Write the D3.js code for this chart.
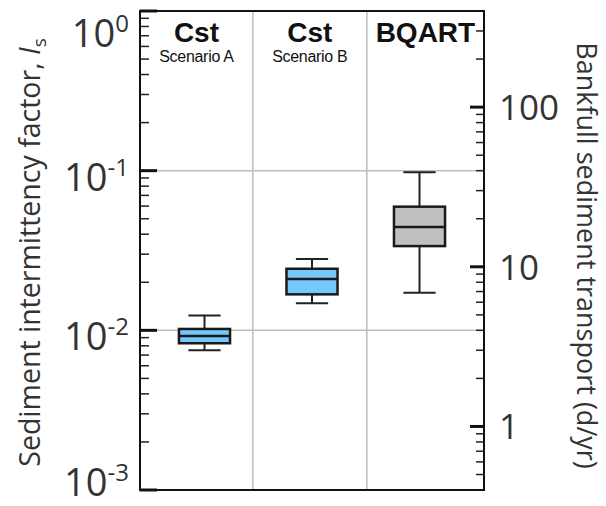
<!DOCTYPE html>
<html>
<head>
<meta charset="utf-8">
<script src="https://cdn.jsdelivr.net/npm/d3@7"></script>
<style>
  body { margin: 0; background: #fff; }
  svg { display: block; }
</style>
</head>
<body>
<div id="chart"></div>
<script>
// datos
const categories = ["Cst", "Cst", "BQART"];
const subtitles = ["Scenario A", "Scenario B", ""];
const positions = [1, 2, 3];
const separators = [1.45, 2.51];
const whiskerLow = [0.0075, 0.0148, 0.0172];
const q1 = [0.0083, 0.0168, 0.0337];
const median = [0.0092, 0.0210, 0.0444];
const q3 = [0.0102, 0.0243, 0.0595];
const whiskerHigh = [0.0124, 0.0280, 0.0977];
const leftTicks = [1e-3, 1e-2, 1e-1, 1];
const leftExponents = ["-3", "-2", "-1", "0"];
const rightTicks = [1, 10, 100];
const gridValues = [1e-2, 1e-1];

const width = 606, height = 506;
const plotLeft = 140, plotRight = 484, plotTop = 11, plotBottom = 490;
const fills = ["#74c8fa", "#74c8fa", "#c0c0c0"];
const tickFont = "'Open Sans', sans-serif";
const catFont = "'Liberation Sans', Arial, sans-serif";
const textColor = '#333';

const svg = d3.select('#chart').append('svg')
    .attr('width', width)
    .attr('height', height);

const x = d3.scaleLinear().domain([0.4, 3.6]).range([plotLeft, plotRight]);
const y = d3.scaleLog().domain([1e-3, 1]).range([plotBottom, plotTop]);
const yR = d3.scaleLog().domain([0.4, 400]).range([plotBottom, plotTop]);

// lineas de cuadricula
svg.selectAll('.hgrid').data(gridValues).enter().append('line')
    .attr('x1', plotLeft).attr('x2', plotRight)
    .attr('y1', d => y(d)).attr('y2', d => y(d))
    .attr('stroke', '#bdbdbd').attr('stroke-width', 1.5);
svg.selectAll('.vgrid').data(separators).enter().append('line')
    .attr('x1', d => x(d)).attr('x2', d => x(d))
    .attr('y1', plotTop).attr('y2', plotBottom)
    .attr('stroke', '#bdbdbd').attr('stroke-width', 1.5);

// ticks izquierdos (menores y mayores)
const minorL = y.ticks().filter(t => !leftTicks.some(m => Math.abs(m - t) / m < 1e-6));
svg.selectAll('.minL').data(minorL).enter().append('line')
    .attr('x1', plotLeft).attr('x2', plotLeft + 9)
    .attr('y1', d => y(d)).attr('y2', d => y(d))
    .attr('stroke', '#222').attr('stroke-width', 1.5);
svg.selectAll('.majL').data(leftTicks).enter().append('line')
    .attr('x1', plotLeft).attr('x2', plotLeft + 17)
    .attr('y1', d => y(d)).attr('y2', d => y(d))
    .attr('stroke', '#111').attr('stroke-width', 3);

// ticks derechos
const minorR = yR.ticks().filter(t => !rightTicks.includes(t));
svg.selectAll('.minR').data(minorR).enter().append('line')
    .attr('x1', plotRight - 8).attr('x2', plotRight)
    .attr('y1', d => yR(d)).attr('y2', d => yR(d))
    .attr('stroke', '#222').attr('stroke-width', 1.5);
svg.selectAll('.majR').data(rightTicks).enter().append('line')
    .attr('x1', plotRight - 14).attr('x2', plotRight)
    .attr('y1', d => yR(d)).attr('y2', d => yR(d))
    .attr('stroke', '#111').attr('stroke-width', 3);

// cajas
const boxes = positions.map((p, i) => ({p, i}));
const g = svg.selectAll('.box').data(boxes).enter().append('g');
const boxW = 0.475, capW = 0.3;
g.append('line')
    .attr('x1', d => x(d.p)).attr('x2', d => x(d.p))
    .attr('y1', d => y(whiskerHigh[d.i])).attr('y2', d => y(q3[d.i]))
    .attr('stroke', '#222').attr('stroke-width', 2);
g.append('line')
    .attr('x1', d => x(d.p)).attr('x2', d => x(d.p))
    .attr('y1', d => y(q1[d.i])).attr('y2', d => y(whiskerLow[d.i]))
    .attr('stroke', '#222').attr('stroke-width', 2);
g.append('line')
    .attr('x1', d => x(d.p - capW / 2)).attr('x2', d => x(d.p + capW / 2))
    .attr('y1', d => y(whiskerHigh[d.i])).attr('y2', d => y(whiskerHigh[d.i]))
    .attr('stroke', '#222').attr('stroke-width', 2);
g.append('line')
    .attr('x1', d => x(d.p - capW / 2)).attr('x2', d => x(d.p + capW / 2))
    .attr('y1', d => y(whiskerLow[d.i])).attr('y2', d => y(whiskerLow[d.i]))
    .attr('stroke', '#222').attr('stroke-width', 2);
g.append('rect')
    .attr('x', d => x(d.p - boxW / 2))
    .attr('width', d => x(d.p + boxW / 2) - x(d.p - boxW / 2))
    .attr('y', d => y(q3[d.i]))
    .attr('height', d => y(q1[d.i]) - y(q3[d.i]))
    .attr('fill', d => fills[d.i])
    .attr('stroke', '#1a1a1a').attr('stroke-width', 2.5);
g.append('line')
    .attr('x1', d => x(d.p - boxW / 2)).attr('x2', d => x(d.p + boxW / 2))
    .attr('y1', d => y(median[d.i])).attr('y2', d => y(median[d.i]))
    .attr('stroke', '#1a1a1a').attr('stroke-width', 2.5);

// etiquetas de categoria, centradas en cada columna
const bounds = [x.domain()[0], ...separators, x.domain()[1]];
const colCenter = i => (x(bounds[i]) + x(bounds[i + 1])) / 2;
svg.selectAll('.cat').data(boxes).enter().append('text')
    .attr('x', d => colCenter(d.i))
    .attr('y', 42)
    .attr('text-anchor', 'middle')
    .attr('font-family', catFont)
    .attr('font-weight', 'bold')
    .attr('font-size', 28)
    .attr('fill', '#111')
    .text(d => categories[d.i]);
svg.selectAll('.sub').data(boxes.filter(d => subtitles[d.i])).enter().append('text')
    .attr('x', d => colCenter(d.i))
    .attr('y', 62)
    .attr('text-anchor', 'middle')
    .attr('font-family', catFont)
    .attr('font-size', 16)
    .attr('letter-spacing', -0.3)
    .attr('fill', '#111')
    .text(d => subtitles[d.i]);

// marco
svg.append('rect')
    .attr('x', plotLeft).attr('y', plotTop)
    .attr('width', plotRight - plotLeft).attr('height', plotBottom - plotTop)
    .attr('fill', 'none').attr('stroke', '#111').attr('stroke-width', 2);

// etiquetas eje izquierdo
const lt = svg.selectAll('.lt').data(leftTicks).enter().append('text')
    .attr('x', 129)
    .attr('y', d => Math.min(Math.max(y(d) + 20, 47), 496))
    .attr('text-anchor', 'end')
    .attr('font-family', tickFont)
    .attr('font-size', 38)
    .attr('fill', textColor);
lt.append('tspan').text('10');
lt.append('tspan')
    .attr('dy', -15)
    .attr('font-size', 24)
    .text((d, i) => leftExponents[i]);

// etiquetas eje derecho
svg.selectAll('.rt').data(rightTicks).enter().append('text')
    .attr('x', 499)
    .attr('y', d => yR(d) + 13)
    .attr('font-family', tickFont)
    .attr('font-size', 35)
    .attr('fill', textColor)
    .text(d => d);

// titulos de ejes
const yl = svg.append('text')
    .attr('transform', 'translate(40,' + ((plotTop + plotBottom) / 2 + 2) + ') rotate(-90)')
    .attr('text-anchor', 'middle')
    .attr('font-family', tickFont)
    .attr('font-size', 28.5)
    .attr('fill', textColor);
yl.append('tspan').text('Sediment intermittency factor, ');
yl.append('tspan').attr('font-style', 'italic').text('I');
yl.append('tspan').attr('font-size', 19).attr('dy', 6).text('s');

svg.append('text')
    .attr('transform', 'translate(577,' + ((plotTop + plotBottom) / 2 + 5) + ') rotate(90)')
    .attr('text-anchor', 'middle')
    .attr('font-family', tickFont)
    .attr('font-size', 27)
    .attr('fill', textColor)
    .text('Bankfull sediment transport (d/yr)');
</script>
</body>
</html>
